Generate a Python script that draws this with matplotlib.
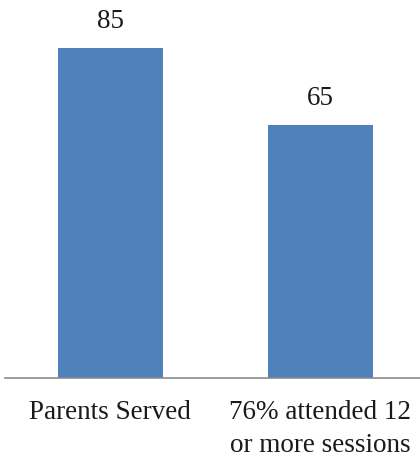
import matplotlib.pyplot as plt
import numpy as np

# data
categories = ['Parents Served', '76% attended 12\nor more sessions']
values = [85, 65]

plt.rcParams['font.family'] = ['Liberation Serif', 'DejaVu Serif']

fig = plt.figure(figsize=(4.2, 4.59), dpi=100)
# axis spans -0.5..1.5 in category units, right edge runs past the figure
ax = fig.add_axes([5 / 420, 81.3 / 459, 420 / 420, 349.4 / 459])

x = np.arange(len(categories))
bars = ax.bar(x, values, width=0.5, color='#4F81BD')

for rect, v in zip(bars, values):
    ax.annotate(str(v), (rect.get_x() + rect.get_width() / 2, v),
                xytext=(0, 10), textcoords='offset points',
                ha='center', va='bottom', fontsize=19.5, color='#1a1a1a')

ax.set_xlim(-0.5, 1.5)
ax.set_ylim(0, 90)
ax.set_xticks(x)
ax.set_xticklabels(categories, fontsize=19.5, color='#1a1a1a', linespacing=1.4)
ax.tick_params(axis='x', length=0, pad=16)
ax.set_yticks([])

for s in ['top', 'right', 'left']:
    ax.spines[s].set_visible(False)
ax.spines['bottom'].set_color('#8c8c8c')
ax.spines['bottom'].set_linewidth(1.2)

fig.savefig('out.png', dpi=100)
